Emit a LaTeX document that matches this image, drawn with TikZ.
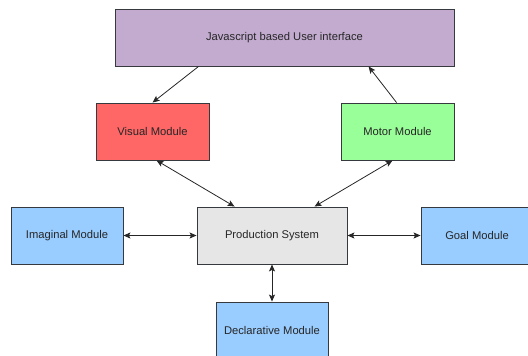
\documentclass[tikz,border=0pt]{standalone}
\usepackage{fontspec}
\setmainfont{Liberation Sans}
\usetikzlibrary{arrows.meta}
\definecolor{jsfill}{HTML}{C3ABD0}
\definecolor{visfill}{HTML}{FF6666}
\definecolor{motfill}{HTML}{99FF99}
\definecolor{prodfill}{HTML}{E6E6E6}
\definecolor{modfill}{HTML}{99CCFF}
\definecolor{edgecol}{HTML}{36393D}
\tikzset{
  box/.style={draw=edgecol, line width=0.9pt, rectangle, inner sep=0pt, minimum height=57pt, font=\fontsize{11.2}{13}\selectfont, text=black!85},
  conn/.style={draw=black!85, line width=0.8pt, -{Stealth[length=7pt,width=6pt,inset=1.5pt]}},
  bconn/.style={draw=black!85, line width=0.8pt, {Stealth[length=7pt,width=6pt,inset=1.5pt]}-{Stealth[length=7pt,width=6pt,inset=1.5pt]}}
}
\begin{document}
\begin{tikzpicture}[x=1pt,y=-1pt]
\useasboundingbox (0,0) rectangle (528,356);
\clip (0,0) rectangle (528,356);
\node[box, fill=jsfill, minimum width=339pt] (js) at (284.5,37.5) {Javascript based User interface};
\node[box, fill=visfill, minimum width=113pt] (vis) at (152.5,131.5) {Visual Module};
\node[box, fill=motfill, minimum width=113pt] (mot) at (397.5,131.5) {Motor Module};
\node[box, fill=prodfill, minimum width=150pt] (prod) at (272,235.5) {Production System};
\node[box, fill=modfill, minimum width=112pt] (img) at (67,235.5) {Imaginal Module};
\node[box, fill=modfill, minimum width=112pt] (goal) at (477,235.5) {Goal Module};
\node[box, fill=modfill, minimum width=112pt] (decl) at (272,330.5) {Declarative Module};
\draw[conn] ([xshift=84pt]js.south west) -- ([xshift=57pt]vis.north west);
\draw[conn] ([xshift=56pt]mot.north west) -- ([xshift=254pt]js.south west);
\draw[bconn] ([xshift=61pt]vis.south west) -- ([xshift=38pt]prod.north west);
\draw[bconn] ([xshift=52pt]mot.south west) -- ([xshift=118pt]prod.north west);
\draw[bconn] (img.east) -- (prod.west);
\draw[bconn] (prod.east) -- (goal.west);
\draw[bconn] (prod.south) -- (decl.north);
\end{tikzpicture}
\end{document}
